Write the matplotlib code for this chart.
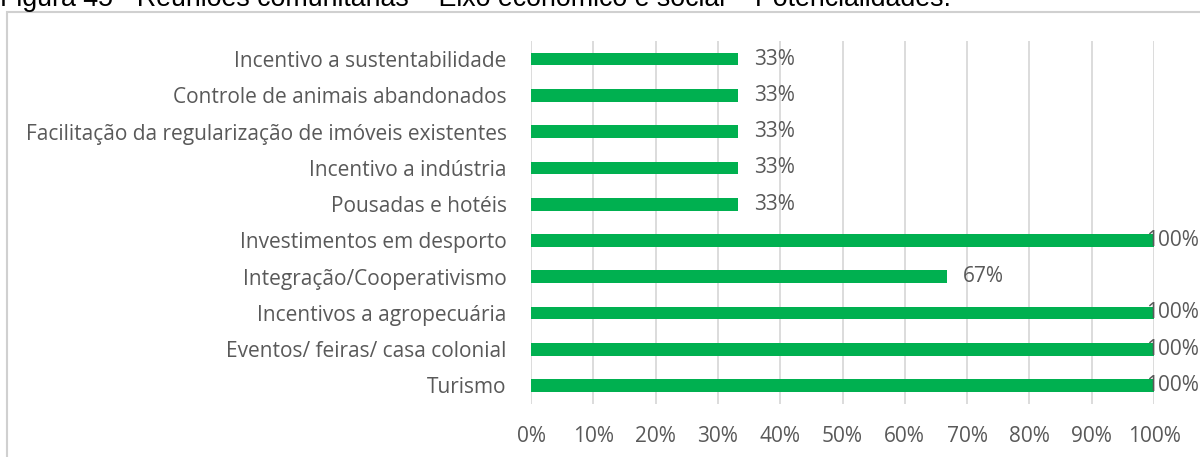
import matplotlib
matplotlib.use("Agg")
import matplotlib.pyplot as plt
from matplotlib.patches import Rectangle
from matplotlib.ticker import FuncFormatter

# dados (de baixo para cima)
categorias = [
    "Turismo",
    "Eventos/ feiras/ casa colonial",
    "Incentivos a agropecuária",
    "Integração/Cooperativismo",
    "Investimentos em desporto",
    "Pousadas e hotéis",
    "Incentivo a indústria",
    "Facilitação da regularização de imóveis existentes",
    "Controle de animais abandonados",
    "Incentivo a sustentabilidade",
]
valores = [1.0, 1.0, 1.0, 0.667, 1.0, 0.333, 0.333, 0.333, 0.333, 0.333]
rotulos = ["100%", "100%", "100%", "67%", "100%", "33%", "33%", "33%", "33%", "33%"]
ticks_x = [i / 10 for i in range(11)]

titulo = "Figura 45 - Reuniões comunitárias – Eixo econômico e social – Potencialidades."

verde = "#00B050"
cinza_txt = "#595959"
cinza_grade = "#D9D9D9"
fonte = ["Open Sans", "DejaVu Sans"]
tam = 15

W, H = 1200, 457
fig = plt.figure(figsize=(W / 100, H / 100), dpi=100)

# moldura do grafico
fig.patches.append(Rectangle((7 / W, -0.05), 1.1, 1 - 12 / H + 0.05,
                             transform=fig.transFigure, fill=False,
                             edgecolor="#D0D0D0", linewidth=1.5))

fig.text(0.0, 1 - 6 / H, titulo, ha="left", va="baseline", fontsize=19.3,
         family=["Liberation Sans", "DejaVu Sans"], color="black")

ax = fig.add_axes([531 / W, 1 - 403.6 / H, (1154 - 531) / W, (403.6 - 41) / H])
y = list(range(len(categorias)))
ax.barh(y, valores, height=0.35, color=verde, zorder=3)

ax.set_xlim(0, 1)
ax.set_ylim(-0.5, len(categorias) - 0.5)
ax.set_xticks(ticks_x)
ax.xaxis.set_major_formatter(FuncFormatter(lambda v, p: f"{v:.0%}"))
ax.set_yticks(y)
ax.set_yticklabels(categorias)
ax.grid(axis="x", color=cinza_grade, linewidth=1.3, zorder=0)
for s in ax.spines.values():
    s.set_visible(False)
ax.tick_params(axis="both", length=0, colors=cinza_txt, labelsize=tam)
ax.tick_params(axis="x", pad=16)
ax.tick_params(axis="y", pad=17.5)
for lab in ax.get_xticklabels() + ax.get_yticklabels():
    lab.set_family(fonte)

for yi, v, r in zip(y, valores, rotulos):
    dx = -8 if v >= 1 else 16
    ax.annotate(r, (v, yi), xytext=(dx, 0), textcoords="offset pixels",
                ha="left", va="center", fontsize=tam, color=cinza_txt,
                family=fonte, zorder=4, annotation_clip=False)

fig.savefig("out.png", dpi=100)
